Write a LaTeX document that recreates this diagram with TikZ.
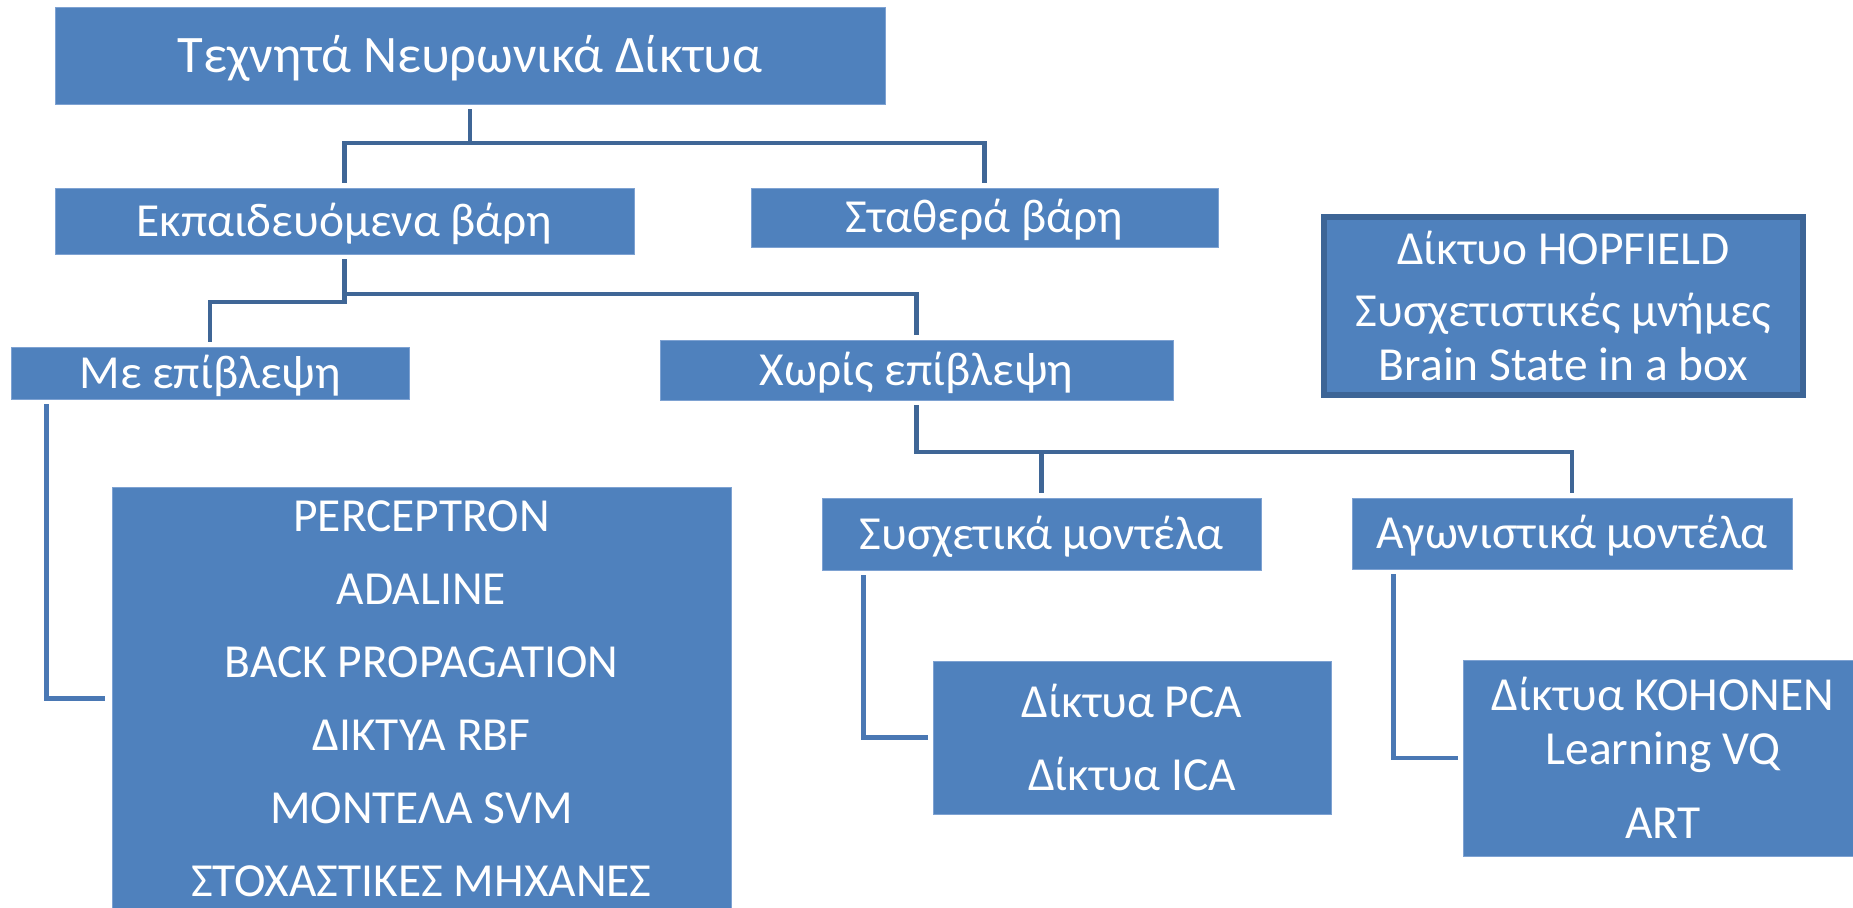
\documentclass[tikz,border=0pt]{standalone}
\usepackage{fontspec}
\setmainfont{Carlito}
\usetikzlibrary{calc}
\definecolor{boxblue}{HTML}{4F81BD}
\definecolor{boxedge}{HTML}{7EA2D2}
\definecolor{linedark}{HTML}{3F6696}
\definecolor{linelight}{HTML}{4A78B4}
\definecolor{hopedge}{HTML}{3D6596}

\begin{document}
\begin{tikzpicture}[
  x=0.02cm, y=-0.02cm,
  netbox/.style={rectangle, fill=boxblue, draw=boxedge, line width=0.4pt,
                 text=white, align=center, inner sep=0pt,
                 font=\fontsize{27}{30.5}\selectfont},
  onerow/.style={netbox, text height=17.3pt, text depth=0pt},
  conn/.style={line width=0.09cm, draw=#1, shorten <=0.1cm, shorten >=0.1cm},
  conn/.default=linedark
]
\clip (0,0) rectangle (1853,907);

% === Top of the tree ===
\node[onerow, font=\fontsize{30}{36}\selectfont, text height=19pt,
      minimum width=16.6cm, minimum height=1.94cm] (title) at (470,55.5)
  {Τεχνητά Νευρωνικά Δίκτυα};

\node[onerow, minimum width=11.58cm, minimum height=1.32cm] (ekp) at (344.5,221)
  {Εκπαιδευόμενα βάρη};
\node[onerow, minimum width=9.34cm, minimum height=1.18cm] (stath) at (984.5,217.5)
  {Σταθερά βάρη};

% === Learning modes ===
\node[onerow, minimum width=7.96cm, minimum height=1.04cm] (me) at (210,373)
  {Με επίβλεψη};
\node[onerow, minimum width=10.26cm, minimum height=1.2cm] (xoris) at (916.5,370)
  {Χωρίς επίβλεψη};

\node[netbox, minimum width=12.38cm, minimum height=8.46cm] (list) at (421.5,698.5)
  {PERCEPTRON\\[11pt] ADALINE\\[11pt] BACK PROPAGATION\\[11pt]
   ΔΙΚΤΥΑ RBF\\[11pt] ΜΟΝΤΕΛΑ SVM\\[11pt] ΣΤΟΧΑΣΤΙΚΕΣ ΜΗΧΑΝΕΣ};

% === Unsupervised models ===
\node[onerow, minimum width=8.78cm, minimum height=1.44cm] (sysx) at (1041.5,534)
  {Συσχετικά μοντέλα};
\node[onerow, minimum width=8.8cm, minimum height=1.42cm] (agon) at (1572,533.5)
  {Αγωνιστικά μοντέλα};

\node[netbox, minimum width=7.96cm, minimum height=3.06cm] (pca) at (1132,737.5)
  {Δίκτυα PCA\\[11pt] Δίκτυα ICA};
\node[netbox, minimum width=8cm, minimum height=3.92cm] (koh) at (1663,758)
  {Δίκτυα KOHONEN\\ Learning VQ\\[12pt] ART};

% === Fixed weights box ===
\node[netbox, draw=hopedge, line width=0.12cm,
      minimum width=9.58cm, minimum height=3.56cm] (hop) at (1563.5,306)
  {Δίκτυο HOPFIELD\\[5pt] Συσχετιστικές μνήμες\\ Brain State in a box};

% === Connectors ===
\coordinate (lvltop) at (0,143);
\coordinate (lvlme) at (0,302);
\coordinate (lvlxo) at (0,294);
\coordinate (lvlsub) at (0,452);

\draw[conn] (title.south) -- (title.south |- lvltop) -| (ekp.north);
\draw[conn] (title.south) -- (title.south |- lvltop) -| (stath.north);
\draw[conn] (ekp.south) -- (ekp.south |- lvlme) -| (me.north);
\draw[conn] (ekp.south) -- (ekp.south |- lvlxo) -| (xoris.north);
\draw[conn=linelight, shorten >=0.14cm] ([xshift=0.72cm]me.south west) |- (list.west);
\draw[conn] (xoris.south) -- (xoris.south |- lvlsub) -| (sysx.north);
\draw[conn] (xoris.south) -- (xoris.south |- lvlsub) -| (agon.north);
\draw[conn=linelight] ([xshift=0.84cm]sysx.south west) |- (pca.west);
\draw[conn=linelight] ([xshift=0.84cm]agon.south west) |- (koh.west);

\end{tikzpicture}
\end{document}
